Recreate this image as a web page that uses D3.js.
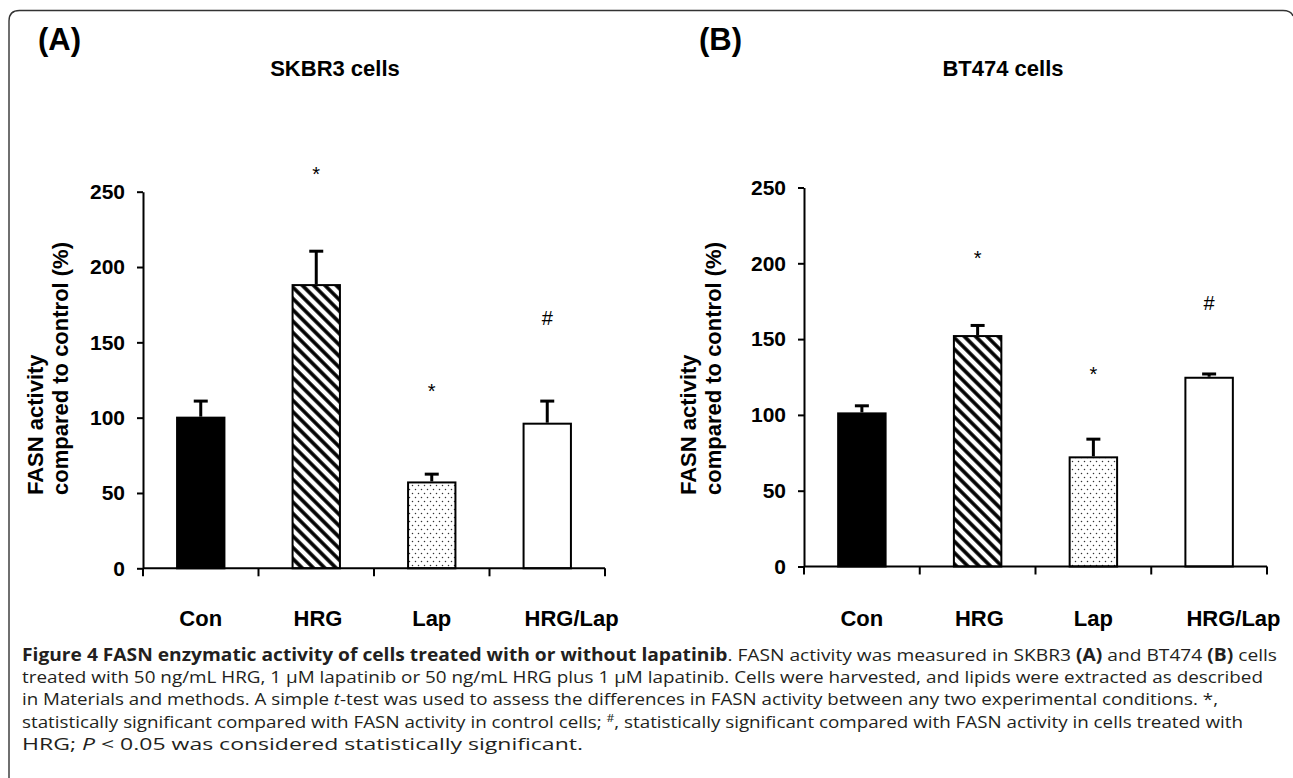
<!DOCTYPE html>
<html>
<head>
<meta charset="utf-8">
<script src="https://cdn.jsdelivr.net/npm/d3@7"></script>
<style>
  html, body { margin: 0; padding: 0; background: #fff; }
  svg { display: block; }
  .panel text { font-family: "Liberation Sans", Arial, sans-serif; fill: #000; }
  .caption { font-family: "Open Sans", "Noto Sans", sans-serif; font-size: 17px; fill: #231f20; }
</style>
</head>
<body>
<svg id="fig" width="1293" height="778"></svg>
<script>
const categories = ["Con", "HRG", "Lap", "HRG/Lap"];
const yTicks = [0, 50, 100, 150, 200, 250];

// SKBR3 (panel A)
const skbr3Means = [100, 188, 57, 96];
const skbr3Errors = [11, 22.5, 5.5, 15];
const skbr3Marks = ["", "*", "*", "#"];
const skbr3MarkAt = [null, 265, 121, 166];

// BT474 (panel B)
const bt474Means = [101, 152, 72, 124.5];
const bt474Errors = [5, 7, 12, 2.5];
const bt474Marks = ["", "*", "*", "#"];
const bt474MarkAt = [null, 207, 130, 174];

const fills = ["#000", "url(#hatch)", "url(#dots)", "#fff"];

const captionLines = [
  [["Figure 4 FASN enzymatic activity of cells treated with or without lapatinib", "b"], [". FASN activity was measured in SKBR3 ", ""], ["(A)", "b"], [" and BT474 ", ""], ["(B)", "b"], [" cells", ""]],
  [["treated with 50 ng/mL HRG, 1 \u03bcM lapatinib or 50 ng/mL HRG plus 1 \u03bcM lapatinib. Cells were harvested, and lipids were extracted as described", ""]],
  [["in Materials and methods. A simple ", ""], ["t", "i"], ["-test was used to assess the differences in FASN activity between any two experimental conditions. *,", ""]],
  [["statistically significant compared with FASN activity in control cells; ", ""], ["#", "sup"], [", statistically significant compared with FASN activity in cells treated with", ""]],
  [["HRG; ", ""], ["P", "i"], [" < 0.05 was considered statistically significant.", ""]]
];
const captionEnds = [1277, 1263, 1218, 1243, 583];

const svg = d3.select("#fig");

// patterns for the HRG and Lap bars
const defs = svg.append("defs");
const hatch = defs.append("pattern")
  .attr("id", "hatch")
  .attr("patternUnits", "userSpaceOnUse")
  .attr("width", 8).attr("height", 8)
  .attr("patternTransform", "rotate(-45)");
hatch.append("rect").attr("width", 8).attr("height", 8).attr("fill", "#fff");
hatch.append("line")
  .attr("x1", 4).attr("x2", 4).attr("y1", 0).attr("y2", 8)
  .attr("stroke", "#000").attr("stroke-width", 3.6);

const dots = defs.append("pattern")
  .attr("id", "dots")
  .attr("patternUnits", "userSpaceOnUse")
  .attr("width", 6).attr("height", 8);
dots.append("rect").attr("width", 6).attr("height", 8).attr("fill", "#fff");
dots.selectAll("circle")
  .data([[1.5, 1.5], [4.5, 5.5]])
  .enter().append("circle")
  .attr("cx", d => d[0]).attr("cy", d => d[1]).attr("r", 0.75)
  .attr("fill", "#333");

// frame round the figure
svg.append("path")
  .attr("d", "M9,778 L9,21 Q9,10.5 19.5,10.5 L1283,10.5 Q1291,10.5 1293,16")
  .attr("fill", "none")
  .attr("stroke", "#333")
  .attr("stroke-width", 1.4);

const panels = [
  { letter: "(A)", title: "SKBR3 cells", means: skbr3Means, errors: skbr3Errors, marks: skbr3Marks, markAt: skbr3MarkAt,
    left: 143, right: 605, top: 191.7, bottom: 568.3, letterX: 38, titleX: 335, labelX: 43 },
  { letter: "(B)", title: "BT474 cells", means: bt474Means, errors: bt474Errors, marks: bt474Marks, markAt: bt474MarkAt,
    left: 804, right: 1267, top: 187.5, bottom: 566.5, letterX: 699, titleX: 1003, labelX: 696 }
];

panels.forEach(p => drawPanel(p));

function drawPanel(p) {
  const g = svg.append("g").attr("class", "panel");

  const x = d3.scaleBand()
    .domain(categories)
    .range([p.left, p.right])
    .paddingInner(0.59)
    .paddingOuter(0.295);

  const y = d3.scaleLinear()
    .domain([0, 250])
    .range([p.bottom, p.top]);

  g.append("text")
    .attr("x", p.letterX).attr("y", 50)
    .style("font-size", "31px").style("font-weight", "bold")
    .text(p.letter);

  g.append("text")
    .attr("x", p.titleX).attr("y", 76)
    .attr("text-anchor", "middle")
    .style("font-size", "22px").style("font-weight", "bold")
    .text(p.title);

  // y axis
  const yAxis = g.append("g")
    .attr("transform", `translate(${p.left},0)`)
    .call(d3.axisLeft(y).tickValues(yTicks).tickSize(6).tickSizeOuter(0).tickPadding(12));
  yAxis.select(".domain").attr("stroke", "#000").attr("stroke-width", 2);
  yAxis.selectAll(".tick line").attr("stroke", "#000").attr("stroke-width", 2);
  yAxis.selectAll(".tick text")
    .style("font-family", "'Liberation Sans', Arial, sans-serif")
    .style("font-size", "21px").style("font-weight", "bold")
    .attr("fill", "#000");

  // y label, two lines
  ["FASN activity", "compared to control (%)"].forEach((t, i) => {
    g.append("text")
      .attr("transform", `translate(${p.labelX + i * 25},495) rotate(-90)`)
      .style("font-size", "22px").style("font-weight", "bold")
      .text(t);
  });

  // bars
  g.selectAll("rect.bar")
    .data(categories)
    .enter().append("rect")
    .attr("class", "bar")
    .attr("x", d => x(d))
    .attr("width", x.bandwidth())
    .attr("y", (d, i) => y(p.means[i]))
    .attr("height", (d, i) => y(0) - y(p.means[i]))
    .attr("fill", (d, i) => fills[i])
    .attr("stroke", "#000")
    .attr("stroke-width", 2);

  // upper error bars
  const err = g.selectAll("g.err")
    .data(categories)
    .enter().append("g")
    .attr("class", "err")
    .attr("stroke", "#000")
    .attr("stroke-width", 3);
  err.append("line")
    .attr("x1", d => x(d) + x.bandwidth() / 2)
    .attr("x2", d => x(d) + x.bandwidth() / 2)
    .attr("y1", (d, i) => y(p.means[i]) - 1)
    .attr("y2", (d, i) => y(p.means[i] + p.errors[i]));
  err.append("line")
    .attr("x1", d => x(d) + x.bandwidth() / 2 - 7)
    .attr("x2", d => x(d) + x.bandwidth() / 2 + 7)
    .attr("y1", (d, i) => y(p.means[i] + p.errors[i]))
    .attr("y2", (d, i) => y(p.means[i] + p.errors[i]));

  // x axis line and ticks at the band edges
  g.append("line")
    .attr("x1", p.left).attr("x2", p.right)
    .attr("y1", y(0)).attr("y2", y(0))
    .attr("stroke", "#000").attr("stroke-width", 2);
  const edges = categories.map(c => x(c) - x.step() * x.paddingInner() / 2).concat([p.right]);
  g.selectAll("line.xtick")
    .data(edges)
    .enter().append("line")
    .attr("class", "xtick")
    .attr("x1", d => d).attr("x2", d => d)
    .attr("y1", y(0)).attr("y2", y(0) + 8)
    .attr("stroke", "#000").attr("stroke-width", 2);

  // category labels
  g.selectAll("text.cat")
    .data(categories)
    .enter().append("text")
    .attr("class", "cat")
    .attr("y", 626)
    .style("font-size", "22px").style("font-weight", "bold")
    .text(d => d)
    .each(function(d) {
      const w = this.getComputedTextLength();
      const sel = d3.select(this);
      if (w > x.bandwidth()) {
        sel.attr("x", x(d) + 1).attr("text-anchor", "start");
      } else {
        sel.attr("x", x(d) + x.bandwidth() / 2).attr("text-anchor", "middle");
      }
    });

  // significance marks
  g.selectAll("text.mark")
    .data(categories.filter((c, i) => p.marks[i]))
    .enter().append("text")
    .attr("class", "mark")
    .attr("x", d => x(d) + x.bandwidth() / 2)
    .attr("y", d => y(p.markAt[categories.indexOf(d)]))
    .attr("text-anchor", "middle")
    .attr("dominant-baseline", "central")
    .attr("dy", d => p.marks[categories.indexOf(d)] === "*" ? "0.25em" : "0")
    .style("font-size", "20px")
    .text(d => p.marks[categories.indexOf(d)]);
}

// caption
const cap = svg.append("g").attr("class", "caption");
captionLines.forEach((segs, i) => {
  const t = cap.append("text")
    .attr("x", 22)
    .attr("y", 661 + i * 22.2);
  segs.forEach(([s, kind], j) => {
    const ts = t.append("tspan").text(s);
    if (kind === "b") ts.style("font-weight", "bold");
    if (kind === "i") ts.style("font-style", "italic");
    if (kind === "sup") ts.attr("dy", -6).style("font-size", "11px");
    if (j > 0 && segs[j - 1][1] === "sup") ts.attr("dy", 6);
  });
  t.attr("textLength", captionEnds[i] - 22).attr("lengthAdjust", "spacingAndGlyphs");
});
</script>
</body>
</html>
